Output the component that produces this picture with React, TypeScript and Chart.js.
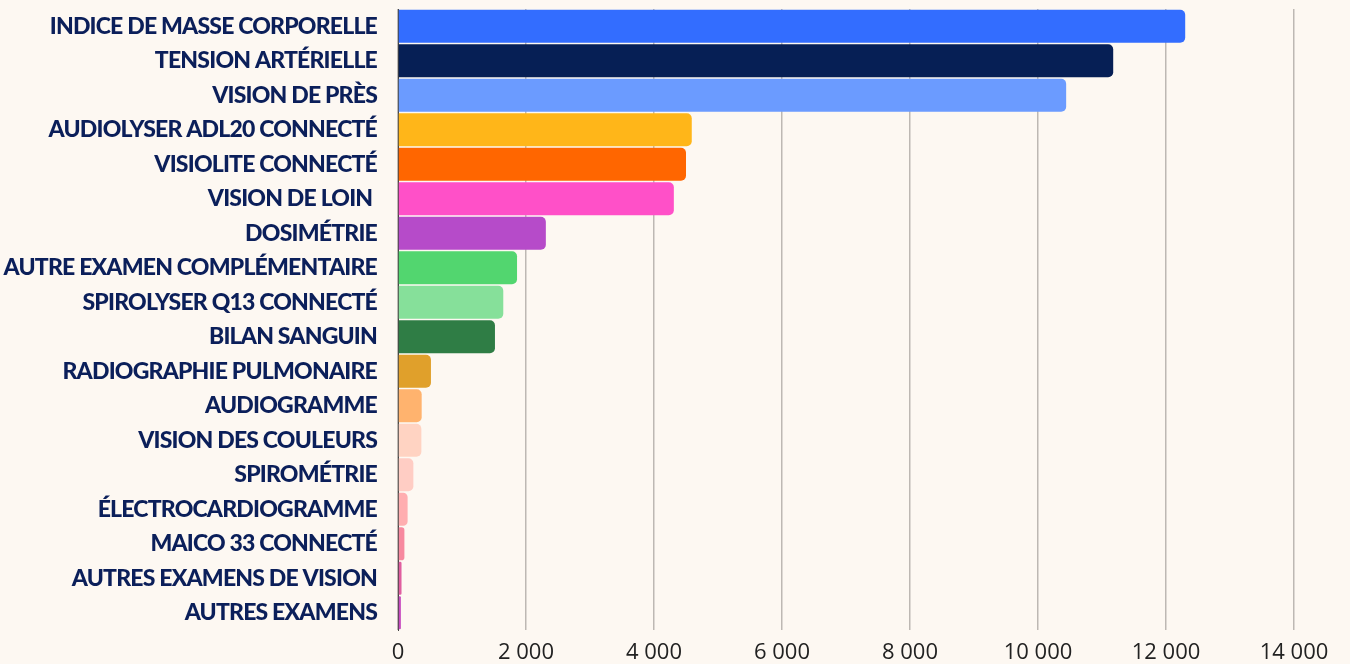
import React, { useEffect, useRef } from "react";
import { Chart, registerables } from "chart.js";

Chart.register(...registerables);

const categories: string[] = [
  "INDICE DE MASSE CORPORELLE",
  "TENSION ARTÉRIELLE",
  "VISION DE PRÈS",
  "AUDIOLYSER ADL20 CONNECTÉ",
  "VISIOLITE CONNECTÉ",
  "VISION DE LOIN ",
  "DOSIMÉTRIE",
  "AUTRE EXAMEN COMPLÉMENTAIRE",
  "SPIROLYSER Q13 CONNECTÉ",
  "BILAN SANGUIN",
  "RADIOGRAPHIE PULMONAIRE",
  "AUDIOGRAMME",
  "VISION DES COULEURS",
  "SPIROMÉTRIE",
  "ÉLECTROCARDIOGRAMME",
  "MAICO 33 CONNECTÉ",
  "AUTRES EXAMENS DE VISION",
  "AUTRES EXAMENS",
];

const values: number[] = [
  12300, 11175, 10440, 4590, 4500, 4310, 2310, 1860, 1645, 1515, 515, 370, 365,
  240, 150, 100, 55, 45,
];

const barColors: string[] = [
  "#336dff",
  "#061f55",
  "#6b9bff",
  "#ffb619",
  "#ff6600",
  "#ff50c8",
  "#b64bc9",
  "#52d66f",
  "#86e09a",
  "#2f7d45",
  "#e0a02b",
  "#ffb36e",
  "#ffd3c2",
  "#ffcdc4",
  "#ffaeb0",
  "#f7899f",
  "#e05ea0",
  "#c84bc0",
];

const xMax = 14000;
const xStep = 2000;

const BG = "#fdf8f2";

function fmt(v: number): string {
  const s = String(Math.round(v));
  return s.replace(/\B(?=(\d{3})+(?!\d))/g, " ");
}

export default function App() {
  const ref = useRef<HTMLCanvasElement | null>(null);

  useEffect(() => {
    document.body.style.margin = "0";
    document.body.style.background = BG;
    const canvas = ref.current;
    if (!canvas) return;

    const bgPlugin = {
      id: "bg",
      beforeDraw(chart: any) {
        const { ctx, width, height } = chart;
        ctx.save();
        ctx.fillStyle = BG;
        ctx.fillRect(0, 0, width, height);
        ctx.restore();
      },
    };

    const chart = new Chart(canvas, {
      type: "bar",
      data: {
        labels: categories,
        datasets: [
          {
            data: values,
            backgroundColor: barColors,
            borderWidth: 0,
            borderRadius: 5,
            borderSkipped: "start",
            barPercentage: 0.96,
            categoryPercentage: 1,
          },
        ],
      },
      options: {
        indexAxis: "y",
        responsive: false,
        animation: false,
        layout: { padding: { top: 9, right: 56, left: 0, bottom: 0 } },
        plugins: {
          legend: { display: false },
          tooltip: { enabled: false },
        },
        scales: {
          x: {
            min: 0,
            max: xMax,
            ticks: {
              stepSize: xStep,
              color: "#222222",
              padding: 10,
              font: { family: "'Open Sans'", size: 22 },
              callback: (v: any) => fmt(Number(v)),
            },
            grid: {
              color: "#bdb8b3",
              lineWidth: 1.5,
              drawTicks: false,
            },
            border: { display: false },
            afterFit: (scale: any) => {
              scale.height = 34;
              scale.paddingLeft = 0;
            },
          },
          y: {
            ticks: {
              color: "#0b1f5a",
              padding: 21,
              autoSkip: false,
              font: { family: "Lato", size: 23, weight: 900 },
            },
            grid: { display: false, drawTicks: false },
            border: { display: true, color: "#444444", width: 1 },
            afterFit: (scale: any) => {
              scale.width = 398;
              scale.paddingTop = 0;
              scale.paddingBottom = 0;
            },
          },
        },
      },
      plugins: [bgPlugin],
    } as any);

    const yScale: any = chart.scales.y;
    const origDraw = yScale.drawLabels.bind(yScale);
    yScale.drawLabels = (area: any) => {
      const ctx: any = chart.ctx;
      ctx.save();
      ctx.letterSpacing = "-0.8px";
      origDraw(area);
      ctx.restore();
    };
    chart.draw();

    return () => chart.destroy();
  }, []);

  return (
    <div style={{ width: 1350, height: 664, background: BG }}>
      <canvas ref={ref} width={1350} height={664} />
    </div>
  );
}
